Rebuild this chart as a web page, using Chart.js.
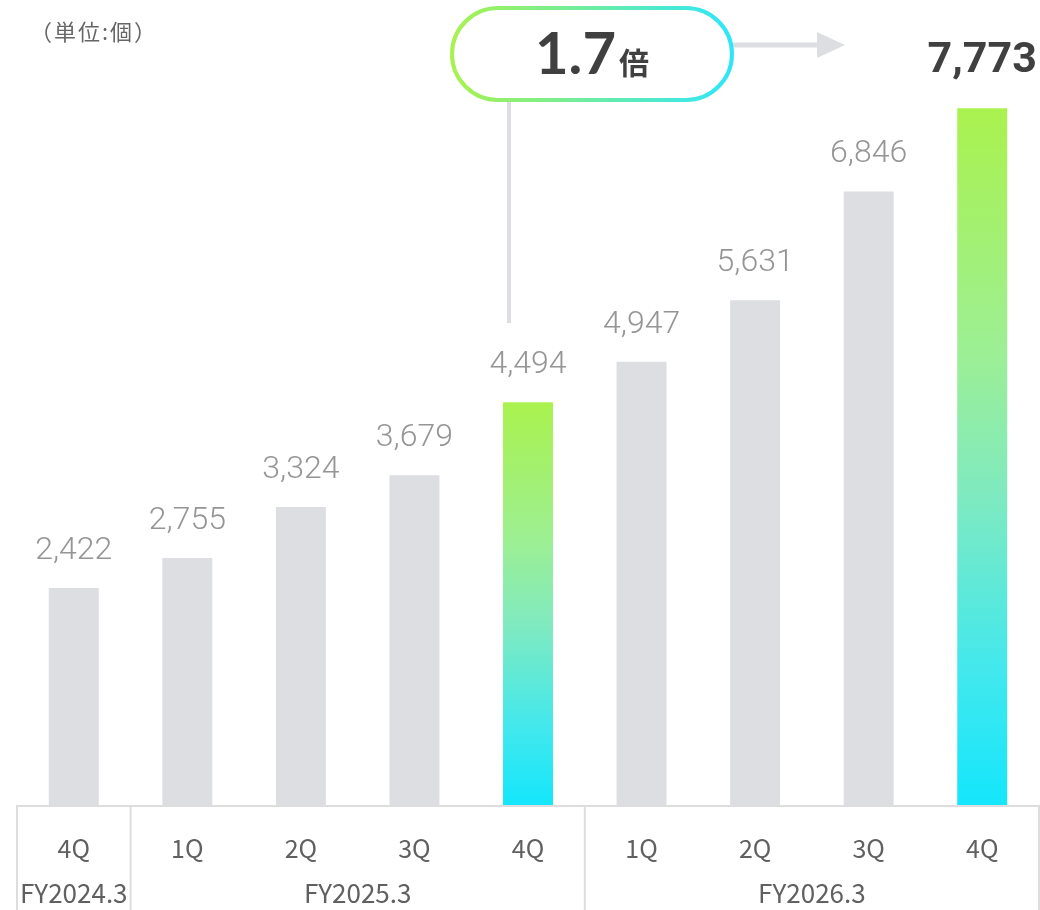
<!DOCTYPE html>
<html><head><meta charset="utf-8">
<script src="https://cdn.jsdelivr.net/npm/chart.js@4.4.1/dist/chart.umd.min.js"></script>
<style>html,body{margin:0;padding:0;background:#fff}#wrap{width:1040px;height:910px;position:relative}</style>
</head><body><div id="wrap"><canvas id="c" width="1040" height="910"></canvas></div>
<script>
const quarters = ['4Q','1Q','2Q','3Q','4Q','1Q','2Q','3Q','4Q'];
const values = [2422, 2755, 3324, 3679, 4494, 4947, 5631, 6846, 7773];
const highlight = [false,false,false,false,true,false,false,false,true];
const groups = [
  {label:'FY2024.3', from:0, to:0},
  {label:'FY2025.3', from:1, to:4},
  {label:'FY2026.3', from:5, to:8}
];
const unitLabel = '（単位:個）';
const ratioNum = '1.7';
const ratioUnit = '倍';

const FONT = '"Noto Sans CJK JP", "Noto Sans", sans-serif';
const GREEN = '#a8f24f', CYAN = '#14e6fc', GRAY = '#dcdee2', LINE = '#dddddd';

function barColor(ctx){
  const i = ctx.dataIndex;
  if (!highlight[i]) return GRAY;
  const chart = ctx.chart;
  const ys = chart.scales.y;
  if (!ys) return GREEN;
  const top = ys.getPixelForValue(values[i]);
  const bot = ys.getPixelForValue(0);
  if (!isFinite(top) || !isFinite(bot)) return GREEN;
  const g = chart.ctx.createLinearGradient(0, top, 0, bot);
  g.addColorStop(0, '#aaf24e');
  g.addColorStop(0.35, '#9cef94');
  g.addColorStop(0.55, '#80eabf');
  g.addColorStop(0.8, '#44e8ec');
  g.addColorStop(1, CYAN);
  return g;
}

const decor = {
  id:'decor',
  afterDatasetsDraw(chart){
    const c = chart.ctx, xs = chart.scales.x, ca = chart.chartArea;
    const meta = chart.getDatasetMeta(0);
    c.save();
    // value labels
    meta.data.forEach((bar,i)=>{
      c.textAlign='center'; c.textBaseline='middle';
      const txt = values[i].toLocaleString('en-US');
      if (i === values.length-1){
        c.fillStyle='#404040'; c.font='bold 43px Roboto, '+FONT;
        c.fillText(txt, bar.x, bar.y-47);
      } else {
        c.fillStyle='#959595'; c.font='300 32px Roboto, '+FONT;
        c.fillText(txt, bar.x, bar.y-37);
      }
    });
    // axis lines
    c.strokeStyle=LINE; c.lineWidth=2;
    c.beginPath(); c.moveTo(ca.left, ca.bottom+1); c.lineTo(ca.right, ca.bottom+1); c.stroke();
    const half = (xs.getPixelForValue(1)-xs.getPixelForValue(0))/2;
    const seps = [xs.getPixelForValue(0)-half];
    groups.forEach(g=>seps.push(xs.getPixelForValue(g.to)+half));
    seps.forEach(x=>{c.beginPath(); c.moveTo(x, ca.bottom); c.lineTo(x, 910); c.stroke();});
    // group labels
    c.fillStyle='#606060'; c.font='26px '+FONT; c.textAlign='center'; c.textBaseline='middle';
    groups.forEach(g=>{
      const x = (xs.getPixelForValue(g.from)+xs.getPixelForValue(g.to))/2;
      c.fillText(g.label, x, 893);
    });
    // unit label
    c.fillStyle='#666'; c.font='22px '+FONT; c.textAlign='left';
    if ('letterSpacing' in c) c.letterSpacing='2px';
    c.fillText(unitLabel, 30, 32);
    if ('letterSpacing' in c) c.letterSpacing='0px';
    // callout
    const b4 = meta.data[4];
    const lx = b4.x - 19;
    c.strokeStyle=GRAY; c.lineWidth=4;
    c.beginPath(); c.moveTo(lx, 100); c.lineTo(lx, 323); c.stroke();
    // arrow
    c.lineWidth=5;
    c.beginPath(); c.moveTo(733, 45); c.lineTo(820, 45); c.stroke();
    c.fillStyle=GRAY;
    c.beginPath(); c.moveTo(817, 32); c.lineTo(845, 45); c.lineTo(817, 58); c.closePath(); c.fill();
    // pill
    const px=452, py=8, pw=280, ph=92, r=ph/2;
    const g = c.createLinearGradient(px,0,px+pw,0);
    g.addColorStop(0, GREEN); g.addColorStop(1, '#2ee6fa');
    c.fillStyle='#fff';
    c.beginPath(); c.roundRect(px,py,pw,ph,r); c.fill();
    c.strokeStyle=g; c.lineWidth=4;
    c.beginPath(); c.roundRect(px,py,pw,ph,r); c.stroke();
    c.fillStyle='#404040'; c.textBaseline='alphabetic'; c.textAlign='left';
    c.font='bold 58px Lato, '+FONT;
    const w1 = c.measureText(ratioNum).width;
    c.font='bold 30px '+FONT;
    const w2 = c.measureText(ratioUnit).width;
    const sx = px + pw/2 - (w1+w2+3)/2;
    c.font='bold 58px Lato, '+FONT;
    c.fillText(ratioNum, sx, 74);
    c.font='bold 30px '+FONT;
    c.fillText(ratioUnit, sx+w1+3, 74);
    c.restore();
  }
};

new Chart(document.getElementById('c'), {
  type:'bar',
  data:{labels:quarters, datasets:[{data:values, backgroundColor:barColor, barPercentage:0.44, categoryPercentage:1, borderWidth:0}]},
  options:{
    responsive:false, animation:false, devicePixelRatio:1,
    layout:{padding:{left:17, right:1, top:88, bottom:0}},
    plugins:{legend:{display:false}, tooltip:{enabled:false}},
    scales:{
      x:{grid:{display:false}, border:{display:false},
         ticks:{color:'#606060', font:{family:FONT, size:25}, padding:20, maxRotation:0, autoSkip:false},
         afterFit(s){s.height=105;}},
      y:{display:false, min:0, max:8000}
    }
  },
  plugins:[decor]
});
</script></body></html>
